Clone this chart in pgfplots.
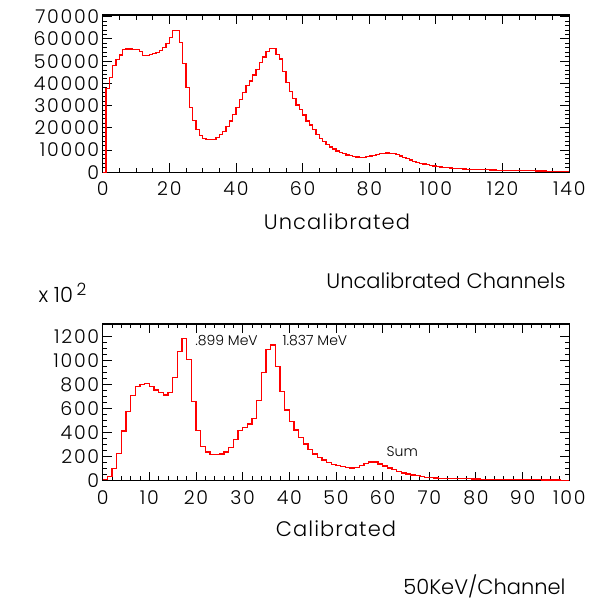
\documentclass[border=0pt]{standalone}
\usepackage{fontspec}
\setmainfont{Poppins}[UprightFont=* Light]
\usepackage{pgfplots}
\pgfplotsset{compat=1.18}

\pgfplotstableread{
x y
0 0
1 37800
2 42600
3 48000
4 50900
5 52800
6 55200
7 55500
8 55500
9 55100
10 55100
11 54300
12 52700
13 52700
14 53200
15 53600
16 53900
17 54800
18 56100
19 58100
20 60800
21 64000
22 64000
23 58400
24 49100
25 38100
26 29300
27 23400
28 19200
29 16700
30 15300
31 14900
32 14700
33 14900
34 15600
35 17100
36 18500
37 20500
38 23100
39 26100
40 29100
41 32600
42 36000
43 39000
44 41100
45 43800
46 46100
47 49400
48 51900
49 54300
50 55700
51 55700
52 53200
53 51000
54 45300
55 40400
56 36300
57 33300
58 30300
59 28100
60 25800
61 23100
62 21300
63 19400
64 17100
65 15300
66 13800
67 12600
68 11400
69 10500
70 9600
71 8800
72 8300
73 7800
74 7400
75 7100
76 6900
77 6700
78 6800
79 7000
80 7300
81 7700
82 8100
83 8400
84 8600
85 8700
86 8600
87 8300
88 7900
89 7300
90 6700
91 6100
92 5500
93 5000
94 4500
95 4100
96 3700
97 3400
98 3100
99 2800
100 2600
101 2400
102 2200
103 2100
104 1900
105 1800
106 1700
107 1600
108 1500
109 1400
110 1350
111 1300
112 1250
113 1200
114 1150
115 1100
116 1050
117 1000
118 970
119 940
120 900
121 870
122 840
123 810
124 780
125 750
126 720
127 700
128 670
129 640
130 620
131 580
132 550
133 520
134 490
135 460
136 430
137 400
138 370
139 340
140 340
}\uncal

\pgfplotstableread{
x y
0 10
1 33
2 103
3 228
4 414
5 575
6 708
7 783
8 803
9 812
10 783
11 756
12 733
13 714
14 736
15 858
16 1075
17 1187
18 1012
19 658
20 417
21 283
22 239
23 220
24 217
25 222
26 239
27 278
28 345
29 417
30 445
31 472
32 520
33 667
34 900
35 1095
36 1131
37 950
38 742
39 589
40 492
41 422
42 361
43 306
44 261
45 222
46 192
47 172
48 153
49 136
50 128
51 120
52 111
53 106
54 111
55 128
56 145
57 156
58 156
59 139
60 122
61 106
62 92
63 78
64 64
65 56
66 47
67 42
68 34
69 29
70 25
71 22
72 20
73 19
74 18
75 17
76 16
77 15
78 15
79 14
80 14
81 13
82 13
83 12
84 12
85 11
86 11
87 10
88 10
89 9
90 8
91 8
92 7
93 7
94 6
95 6
96 5
97 5
98 4
99 3
100 3
}\cal

\pgfplotsset{
  pawaxis/.style={
    scale only axis,
    width=466.6pt,
    axis line style={line width=1.3pt},
    tick align=inside,
    major tick length=9pt,
    minor tick length=4.5pt,
    every tick/.style={line width=1pt, black},
    every tick label/.append style={font=\fontsize{19}{19}\selectfont\addfontfeatures{LetterSpace=9}},
    xticklabel style={yshift=-6pt},
    /pgf/number format/assume math mode=true,
    /pgf/number format/1000 sep={},
    xtick pos=both, ytick pos=both,
    xticklabel pos=bottom, yticklabel pos=left,
    scaled y ticks=false,
    clip=false,
  },
  hist/.style={red, line width=1.2pt, const plot mark left, mark=none},
}

\begin{document}
\begin{tikzpicture}
\path[use as bounding box] (0pt,0pt) rectangle (592pt,600pt);

\begin{axis}[pawaxis,
  at={(102.7pt,427.7pt)}, anchor=south west,
  height=157.3pt,
  xmin=0, xmax=140, ymin=0, ymax=70800,
  xtick={0,20,...,140}, minor x tick num=3,
  ytick={0,10000,...,70000}, minor y tick num=4,
]
\addplot[hist] table[x=x,y=y] {\uncal};
\end{axis}

\begin{axis}[pawaxis,
  at={(102.7pt,119.3pt)}, anchor=south west,
  height=156.7pt,
  xmin=0, xmax=100, ymin=0, ymax=1306,
  xtick={0,10,...,100}, minor x tick num=4,
  ytick={0,200,...,1200}, minor y tick num=3,
]
\addplot[hist] table[x=x,y=y] {\cal};
\node[anchor=west, font=\fontsize{14}{14}\selectfont] at (axis cs:19.1,1172) {.899 MeV};
\node[anchor=west, font=\fontsize{14}{14}\selectfont] at (axis cs:37.8,1172) {1.837 MeV};
\node[anchor=west, font=\fontsize{14}{14}\selectfont] at (axis cs:60.1,239) {Sum};
\end{axis}

\node[font=\fontsize{21}{21}\selectfont\addfontfeatures{LetterSpace=5}] at (337pt,378pt) {Uncalibrated};
\node[anchor=east, font=\fontsize{21}{21}\selectfont] at (569pt,319pt) {Uncalibrated Channels};
\node[anchor=west, font=\fontsize{21}{21}\selectfont] at (35pt,307pt) {x 10\,\raisebox{7pt}{\fontsize{17}{17}\selectfont 2}};
\node[font=\fontsize{21}{21}\selectfont\addfontfeatures{LetterSpace=5}] at (336pt,71pt) {Calibrated};
\node[anchor=east, font=\fontsize{21}{21}\selectfont] at (569pt,14pt) {50KeV/Channel};
\end{tikzpicture}
\end{document}
